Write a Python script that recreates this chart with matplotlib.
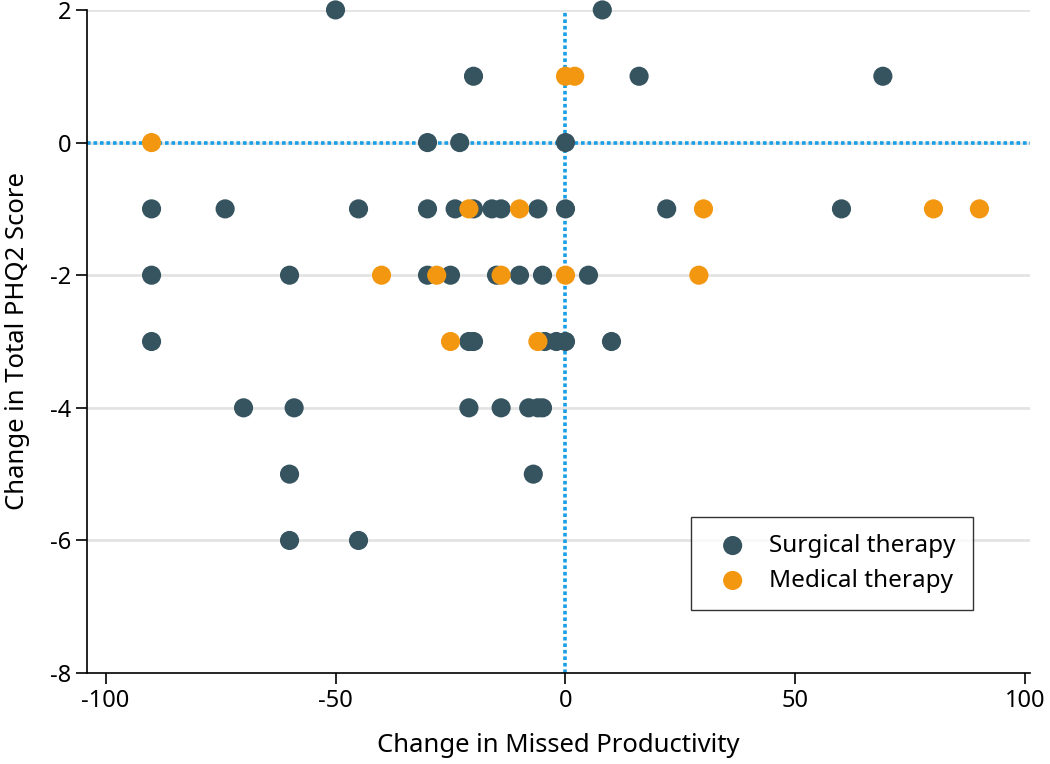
import matplotlib.pyplot as plt

plt.rcParams['font.family'] = ['Noto Sans', 'DejaVu Sans']

# Surgical therapy (x = change in missed productivity, y = change in PHQ2)
surg_x = [-50, 8, -20, 16, 69, -30, -23, 0,
          -90, -74, -45, -30, -24, -20, -16, -14, -6, 0, 22, 60,
          -90, -60, -30, -25, -15, -10, -5, 5,
          -90, -21, -20, -4.5, -2, 0, 10,
          -70, -59, -21, -14, -8, -6, -5,
          -60, -7,
          -60, -45]
surg_y = [2, 2, 1, 1, 1, 0, 0, 0,
          -1, -1, -1, -1, -1, -1, -1, -1, -1, -1, -1, -1,
          -2, -2, -2, -2, -2, -2, -2, -2,
          -3, -3, -3, -3, -3, -3, -3,
          -4, -4, -4, -4, -4, -4, -4,
          -5, -5,
          -6, -6]

# Medical therapy
med_x = [0, 2, -90, -21, -10, 30, 80, 90, -40, -28, -14, 0, 29, -25, -6]
med_y = [1, 1, 0, -1, -1, -1, -1, -1, -2, -2, -2, -2, -2, -3, -3]

fig = plt.figure(figsize=(10.5, 7.64), dpi=100)
ax = fig.add_axes([0.083, 0.119, 0.898, 0.868])

for yv in [2, 0, -2, -4, -6]:
    ax.axhline(yv, color='#e3e3e3', lw=2, zorder=0)
ax.axhline(0, color='#1a9ee5', lw=2.6, ls=(0, (1, 0.8)), zorder=1)
ax.axvline(0, color='#1a9ee5', lw=2.6, ls=(0, (1, 0.8)), zorder=1)

ax.scatter(surg_x, surg_y, s=190, color='#36545f', zorder=3, clip_on=False,
           label='Surgical therapy', edgecolors='none')
ax.scatter(med_x, med_y, s=190, color='#f39711', zorder=4, clip_on=False,
           label='Medical therapy', edgecolors='none')

ax.set_xlim(-104, 101)
ax.set_ylim(-8, 2)
ax.set_xticks([-100, -50, 0, 50, 100])
ax.set_yticks([2, 0, -2, -4, -6, -8])
ax.set_xticklabels(['-100', '-50', '0', '50', '100'])
ax.set_yticklabels(['2', '0', '-2', '-4', '-6', '-8'])
ax.tick_params(labelsize=17, length=8, width=1.2, direction='out')
for s in ['top', 'right']:
    ax.spines[s].set_visible(False)
for s in ['left', 'bottom']:
    ax.spines[s].set_linewidth(1.2)

ax.set_xlabel('Change in Missed Productivity', fontsize=18.5, labelpad=14)
ax.set_ylabel('Change in Total PHQ2 Score', fontsize=18.5, labelpad=14)

leg = ax.legend(loc='lower right', bbox_to_anchor=(0.952, 0.077), fontsize=17.5,
                frameon=True, fancybox=False, edgecolor='black',
                handletextpad=0.5, borderpad=0.7, labelspacing=0.45)
leg.get_frame().set_linewidth(1.0)

fig.savefig('out.png', dpi=100)
